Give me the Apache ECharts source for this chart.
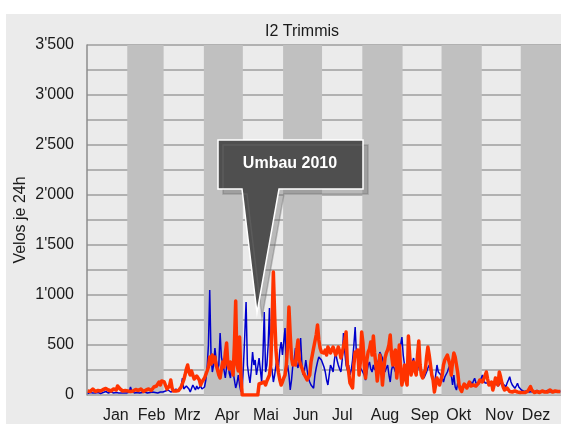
<!DOCTYPE html>
<html>
<head>
<meta charset="utf-8">
<script src="https://cdn.jsdelivr.net/npm/echarts@6/dist/echarts.min.js"></script>
<style>
  html, body { margin: 0; padding: 0; background: #fff; }
  #wrap { position: relative; width: 561px; height: 424px; overflow: hidden; }
  #bg { position: absolute; left: 6px; top: 14px; right: 0; bottom: 0; background: #ebebeb; }
  #chart { position: absolute; left: 0; top: 0; width: 561px; height: 424px; }
</style>
</head>
<body>
<div id="wrap"><div id="bg"></div><div id="chart"></div></div>
<script>
// month names and where the reference puts each label (day of year)
const months = ["Jan", "Feb", "Mrz", "Apr", "Mai", "Jun", "Jul", "Aug", "Sep", "Okt", "Nov", "Dez"];
const monthLengths = [31, 28, 31, 30, 31, 30, 31, 31, 30, 31, 30, 31];
const monthLabelAt = [22.2, 49.7, 77.3, 107.9, 137.7, 168.3, 196.6, 229.5, 260.1, 286.2, 317.5, 345.8];
const shadedMonths = [1, 3, 5, 7, 9, 11];

// daily counts, blue series
const veloBlue = [
  15,20,25,15,20,30,20,15,25,20, 15,30,25,20,35,25,20,15,30,25, 20,15,25,30,20,15,20,25,20,15, 20,
  25,30,80,40,25,20,15,25,30,20, 15,25,20,30,25,20,15,25,20,30, 35,25,30,20,40,30,35,30,
  30,40,35,50,40,30,45,40,35,60, 50,40,60,90,170,60,50,90,100,60, 30,50,100,80,50,90,60,40,90,60, 50,
  80,150,270,500,1050,400,230,300,470,350, 250,300,620,380,400,250,170,280,350,220, 170,300,230,150,70,120,200,100,33,60,
  300,600,930,300,200,120,250,430,300,350, 200,280,370,250,130,400,830,230,300,500, 870,300,250,130,200,300,370,280,450,530, 400,
  400,670,230,300,200,50,150,300,350,470, 300,270,400,570,300,200,250,350,250,170, 130,100,80,67,200,270,330,380,400,350,
  330,280,230,150,100,200,300,270,230,350, 430,350,300,260,230,350,620,430,300,250, 300,200,250,350,500,680,400,370,300,280, 250,
  230,200,150,130,300,330,260,230,300,250, 280,270,350,430,400,370,300,230,270,300, 200,130,250,300,270,230,300,370,420,500, 580,
  400,300,200,100,250,270,300,330,370,280, 200,250,300,270,230,200,170,200,230,270, 300,250,200,150,100,200,300,230,220,200,
  170,130,180,200,230,270,300,200,100,200, 80,50,120,100,70,50,80,117,90,70, 100,120,133,100,140,167,120,100,110,133, 150,
  200,150,120,100,120,133,110,90,67,90, 117,100,90,100,120,133,110,90,83,120, 150,183,130,100,80,67,90,117,80,60,
  50,40,35,30,40,35,30,25,35,40, 30,35,45,40,30,25,35,40,30,35, 45,35,30,25,40,35,30,35,40,30, 35
];

// daily counts, orange series (counter off during the rebuild in May)
const veloOrange = [
  40,45,35,55,60,40,35,30,45,50, 40,35,55,60,65,70,50,45,40,55, 60,45,50,90,100,60,45,40,35,45, 50,
  40,45,35,50,40,45,55,40,45,50, 60,40,35,45,50,55,60,50,45,60, 80,70,90,110,130,100,140,150,
  130,110,60,50,90,150,70,40,45,40, 50,45,60,80,100,150,200,260,300,230, 200,240,220,160,150,190,210,150,100,130, 150,
  170,160,240,280,380,310,400,330,380,300, 250,200,170,260,330,280,420,520,300,260, 330,290,200,500,940,300,240,580,200,0,
  0,0,0,0,0,0,0,0,0,0, 0,0,110,100,120,110,130,100,140,120, 200,300,700,1230,800,450,300,220,150,100, 130,
  170,200,300,500,880,600,370,300,330,300, 450,550,350,300,270,230,200,180,150,130, 200,330,350,470,450,600,700,550,470,430,
  430,420,450,400,480,500,420,440,480,470, 400,430,480,440,370,420,400,550,630,300, 230,120,100,70,300,430,400,450,200,330, 630,
  520,300,170,350,430,460,530,400,590,420, 300,140,250,400,300,100,250,370,420,450, 500,600,400,300,420,450,170,300,500,250, 100,
  200,300,150,100,590,400,200,250,330,250, 200,400,540,300,200,170,220,250,380,480, 400,300,200,150,30,50,170,180,100,150,
  200,300,350,370,400,350,300,200,330,420, 380,300,220,100,60,35,80,110,90,70, 100,130,90,70,100,120,90,70,120,150, 140,
  130,160,180,230,160,100,120,130,50,100, 170,140,100,230,180,120,80,50,60,70, 50,35,40,30,35,40,50,30,20,25,
  20,25,30,25,30,40,60,85,50,30, 25,30,35,30,25,30,40,35,30,25, 30,35,50,40,30,35,40,30,35,40, 35
];

const font = "Liberation Sans";

function thousands(v) {
  if (v < 1000) return String(v);
  const rest = String(v % 1000).padStart(3, "0");
  return Math.floor(v / 1000) + "'" + rest;
}

const monthStart = monthLengths.map((_, i) => monthLengths.slice(0, i).reduce((a, b) => a + b, 0));
const bands = shadedMonths.map((m) => [{ xAxis: monthStart[m] }, { xAxis: monthStart[m] + monthLengths[m] }]);

const chart = echarts.init(document.getElementById("chart"));
chart.setOption({
  animation: false,
  backgroundColor: "transparent",
  title: {
    text: "I2 Trimmis",
    left: 297,
    top: 19,
    textAlign: "center",
    textStyle: { fontFamily: font, fontSize: 16, fontWeight: "normal", color: "#1a1a1a" },
  },
  grid: { left: 87, top: 45, right: -3, bottom: 29 },
  xAxis: {
    type: "value",
    min: 0,
    max: 365,
    axisLine: { show: false },
    axisTick: { show: false },
    splitLine: { show: false },
    axisLabel: {
      customValues: monthLabelAt,
      margin: 13,
      fontFamily: font,
      fontSize: 16,
      color: "#1a1a1a",
      formatter: (v) => months[monthLabelAt.indexOf(v)] || "",
    },
  },
  yAxis: {
    type: "value",
    min: 0,
    max: 3500,
    interval: 250,
    name: "Velos je 24h",
    nameLocation: "middle",
    nameGap: 58,
    nameMoveOverlap: false,
    nameTextStyle: { fontFamily: font, fontSize: 16, color: "#1a1a1a" },
    axisLine: { show: true, lineStyle: { color: "#8c8c8c", width: 1.5 } },
    axisTick: { show: false },
    axisLabel: {
      margin: 13,
      fontFamily: font,
      fontSize: 16,
      color: "#1a1a1a",
      padding: [3, 0, 0, 0],
      formatter: (v) => (v % 500 ? "" : thousands(v)),
    },
    splitLine: { lineStyle: { color: "#9e9e9e", width: 1.5 } },
  },
  series: [
    {
      type: "line",
      data: [],
      z: 1,
      markArea: { silent: true, itemStyle: { color: "#c0c0c0", opacity: 1 }, data: bands },
    },
    {
      type: "line",
      z: 3,
      symbol: "none",
      data: veloBlue.map((v, i) => [i + 0.5, v]),
      lineStyle: { color: "#0000cc", width: 1.5 },
    },
    {
      type: "line",
      z: 4,
      symbol: "none",
      data: veloOrange.map((v, i) => [i + 0.5, v]),
      lineStyle: { color: "#ff3300", width: 3.5, join: "round" },
    },
  ],
  graphic: [
    {
      type: "polygon",
      z: 100,
      shape: { points: [[218, 140], [363, 140], [363, 189], [279, 189], [257, 313], [242, 189], [218, 189]] },
      style: {
        fill: "#4f4f4f",
        stroke: "#ffffff",
        lineWidth: 1.5,
        shadowColor: "rgba(110,110,110,0.4)",
        shadowOffsetX: 5,
        shadowOffsetY: 5,
        shadowBlur: 0,
      },
    },
    {
      type: "text",
      z: 101,
      x: 290,
      y: 164,
      style: {
        text: "Umbau 2010",
        fill: "#ffffff",
        font: "bold 16px 'Liberation Sans'",
        align: "center",
        verticalAlign: "middle",
      },
    },
  ],
});
</script>
</body>
</html>
